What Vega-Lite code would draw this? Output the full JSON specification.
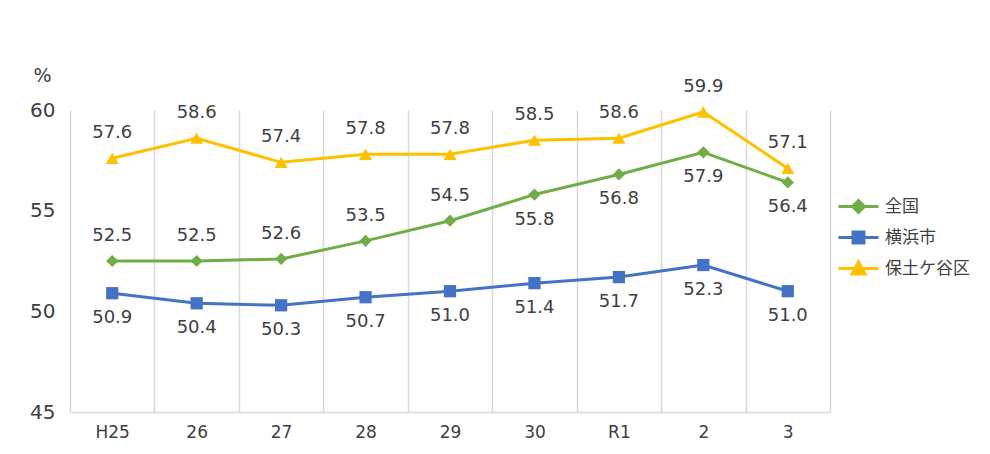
{
  "$schema": "https://vega.github.io/schema/vega-lite/v6.json",
  "autosize": {"type": "none"},
  "width": 760,
  "height": 302,
  "padding": {"left": 70, "top": 110, "right": 160, "bottom": 42},
  "background": "white",
  "config": {
    "view": {"stroke": null},
    "font": "DejaVu Sans"
  },
  "data": {
    "values": [
      {"year": "H25", "series": "全国", "value": 52.5},
      {"year": "26", "series": "全国", "value": 52.5},
      {"year": "27", "series": "全国", "value": 52.6},
      {"year": "28", "series": "全国", "value": 53.5},
      {"year": "29", "series": "全国", "value": 54.5},
      {"year": "30", "series": "全国", "value": 55.8},
      {"year": "R1", "series": "全国", "value": 56.8},
      {"year": "2", "series": "全国", "value": 57.9},
      {"year": "3", "series": "全国", "value": 56.4},
      {"year": "H25", "series": "横浜市", "value": 50.9},
      {"year": "26", "series": "横浜市", "value": 50.4},
      {"year": "27", "series": "横浜市", "value": 50.3},
      {"year": "28", "series": "横浜市", "value": 50.7},
      {"year": "29", "series": "横浜市", "value": 51.0},
      {"year": "30", "series": "横浜市", "value": 51.4},
      {"year": "R1", "series": "横浜市", "value": 51.7},
      {"year": "2", "series": "横浜市", "value": 52.3},
      {"year": "3", "series": "横浜市", "value": 51.0},
      {"year": "H25", "series": "保土ケ谷区", "value": 57.6},
      {"year": "26", "series": "保土ケ谷区", "value": 58.6},
      {"year": "27", "series": "保土ケ谷区", "value": 57.4},
      {"year": "28", "series": "保土ケ谷区", "value": 57.8},
      {"year": "29", "series": "保土ケ谷区", "value": 57.8},
      {"year": "30", "series": "保土ケ谷区", "value": 58.5},
      {"year": "R1", "series": "保土ケ谷区", "value": 58.6},
      {"year": "2", "series": "保土ケ谷区", "value": 59.9},
      {"year": "3", "series": "保土ケ谷区", "value": 57.1}
    ]
  },
  "encoding": {
    "x": {
      "field": "year",
      "type": "ordinal",
      "sort": ["H25", "26", "27", "28", "29", "30", "R1", "2", "3"],
      "scale": {"type": "band", "paddingInner": 0, "paddingOuter": 0},
      "axis": {
        "title": null,
        "labelAngle": 0,
        "labelFontSize": 17,
        "labelColor": "#404040",
        "labelPadding": 12,
        "ticks": false,
        "domainColor": "#d9d9d9",
        "domainWidth": 1.5,
        "grid": true,
        "gridColor": "#d9d9d9",
        "gridWidth": 1.5,
        "tickBand": "extent"
      }
    },
    "y": {
      "field": "value",
      "type": "quantitative",
      "scale": {"domain": [45, 60], "nice": false, "zero": false},
      "axis": {
        "title": "%",
        "titleAngle": 0,
        "titleX": -28,
        "titleY": -35,
        "titleAlign": "center",
        "titleBaseline": "middle",
        "titleFontSize": 19,
        "titleFontWeight": "normal",
        "titleColor": "#404040",
        "values": [45, 50, 55, 60],
        "labelFontSize": 20,
        "labelColor": "#404040",
        "labelPadding": 15,
        "ticks": false,
        "domain": false,
        "grid": false
      }
    },
    "color": {
      "field": "series",
      "type": "nominal",
      "scale": {"domain": ["全国", "横浜市", "保土ケ谷区"], "range": ["#70ad47", "#4472c4", "#ffc000"]},
      "legend": {
        "title": null,
        "orient": "none",
        "legendX": 777,
        "legendY": 85,
        "labelFont": "Noto Sans CJK JP",
        "labelFontSize": 17,
        "labelColor": "#404040",
        "symbolSize": 400,
        "rowPadding": 7,
        "labelOffset": 15,
        "encode": {
          "symbols": {
            "update": {
              "shape": {"signal": "datum.value === '全国' ? 'M-2,0H2M0,-0.6L0.6,0L0,0.6L-0.6,0Z' : datum.value === '横浜市' ? 'M-2,0H2M-0.55,-0.55H0.55V0.55H-0.55Z' : 'M-2,0H2M0,-0.65L0.65,0.55H-0.65Z'"},
              "fill": {"signal": "scale('color', datum.value)"},
              "stroke": {"signal": "scale('color', datum.value)"},
              "strokeWidth": {"value": 3},
              "opacity": {"value": 1},
              "fillOpacity": {"value": 1}
            }
          }
        }
      }
    }
  },
  "layer": [
    {
      "mark": {"type": "line", "strokeWidth": 3}
    },
    {
      "transform": [{"filter": "datum.series === '全国'"}],
      "mark": {"type": "point", "shape": "diamond", "filled": true, "opacity": 1, "size": 150}
    },
    {
      "transform": [{"filter": "datum.series === '横浜市'"}],
      "mark": {"type": "point", "shape": "square", "filled": true, "opacity": 1, "size": 150}
    },
    {
      "transform": [{"filter": "datum.series === '保土ケ谷区'"}],
      "mark": {"type": "point", "shape": "triangle-up", "filled": true, "opacity": 1, "size": 170}
    },
    {
      "transform": [{"filter": "datum.series === '保土ケ谷区' || (datum.series === '全国' && indexof(['H25','26','27','28','29'], datum.year) >= 0)"}],
      "mark": {"type": "text", "dy": -25, "fontSize": 18, "color": "#404040"},
      "encoding": {"text": {"field": "value", "type": "quantitative", "format": ".1f"}, "color": {"value": "#404040"}}
    },
    {
      "transform": [{"filter": "datum.series === '横浜市' || (datum.series === '全国' && indexof(['H25','26','27','28','29'], datum.year) < 0)"}],
      "mark": {"type": "text", "dy": 25, "fontSize": 18, "color": "#404040"},
      "encoding": {"text": {"field": "value", "type": "quantitative", "format": ".1f"}, "color": {"value": "#404040"}}
    }
  ]
}
